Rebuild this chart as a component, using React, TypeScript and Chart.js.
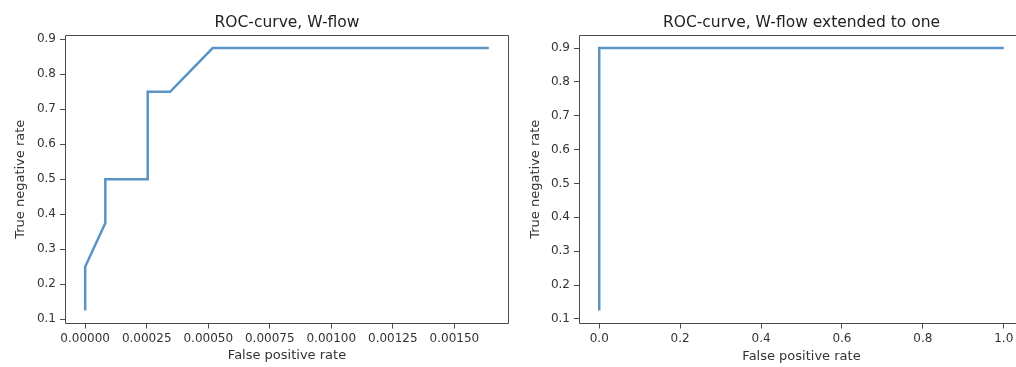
import React, { useEffect, useRef } from "react";
import { Chart, registerables } from "chart.js";

Chart.register(...registerables);

// ---- data ----
const leftFpr = [0, 0, 0.0000819, 0.0000819, 0.000254, 0.000254, 0.000345, 0.000518, 0.00164];
const leftTnr = [0.125, 0.25, 0.375, 0.5, 0.5, 0.75, 0.75, 0.875, 0.875];
const rightFpr = [0, 0, 1];
const rightTnr = [0.125, 0.9, 0.9];

const leftXTicks = [0, 0.00025, 0.0005, 0.00075, 0.001, 0.00125, 0.0015];
const rightXTicks = [0, 0.2, 0.4, 0.6, 0.8, 1.0];
const yTicks = [0.1, 0.2, 0.3, 0.4, 0.5, 0.6, 0.7, 0.8, 0.9];

const leftTitle = "ROC-curve, W-flow";
const rightTitle = "ROC-curve, W-flow extended to one";
const xLabel = "False positive rate";
const yLabel = "True negative rate";

// ---- styles ----
const FONT = "'DejaVu Sans', sans-serif";
const LINE = "#5a94c4";
const SPINE = "#4a4a4a";
const TEXT = "#333333";

const framePlugin = {
  id: "frame",
  afterDraw(chart: any, _args: any, opts: any) {
    const { ctx, chartArea: a } = chart;
    const l = Math.round(a.left) + 0.5;
    const t = Math.round(a.top) + 0.5;
    const r = Math.round(a.right) - 0.5;
    const b = Math.round(a.bottom) - 0.5;
    const rr = opts && opts.rightSpine ? r : Math.round(a.right) + 1;
    ctx.save();
    ctx.strokeStyle = SPINE;
    ctx.lineWidth = 1;
    ctx.beginPath();
    ctx.moveTo(rr, t);
    ctx.lineTo(l, t);
    ctx.lineTo(l, b);
    ctx.lineTo(rr, b);
    if (opts && opts.rightSpine) {
      ctx.moveTo(r, t);
      ctx.lineTo(r, b);
    }
    ctx.stroke();
    ctx.restore();
  },
};

type Geo = {
  width: number;
  yAxisWidth: number;
  padRight: number;
  xMin: number;
  xMax: number;
  yMin: number;
  yMax: number;
  xTicks: number[];
  xDigits: number;
  yTitlePad: number;
  xTitlePad: number;
  rightSpine: boolean;
};

const TOP_BOX = 35;
const X_AXIS_H = 43.5;

function makeConfig(title: string, xs: number[], ys: number[], g: Geo): any {
  const pts = xs.map((x, i) => ({ x, y: ys[i] }));
  return {
    type: "scatter",
    data: {
      datasets: [
        {
          data: pts,
          showLine: true,
          borderColor: LINE,
          borderWidth: 2.5,
          pointRadius: 0,
          tension: 0,
          fill: false,
        },
      ],
    },
    options: {
      responsive: false,
      animation: false,
      devicePixelRatio: 1,
      layout: { padding: { left: 0, right: g.padRight, top: 0, bottom: 0 } },
      plugins: {
        legend: { display: false },
        tooltip: { enabled: false },
        frame: { rightSpine: g.rightSpine },
        title: {
          display: true,
          text: title,
          fullSize: false,
          color: "#222222",
          font: { family: FONT, size: 15.5, weight: "normal" },
          padding: { top: 13.2, bottom: TOP_BOX - 13.2 - 15.5 * 1.2 },
        },
      },
      scales: {
        x: {
          type: "linear",
          min: g.xMin,
          max: g.xMax,
          border: { display: false },
          grid: { drawOnChartArea: false, drawTicks: true, tickLength: 5, color: SPINE },
          afterBuildTicks: (s: any) => {
            s.ticks = g.xTicks.map((v) => ({ value: v }));
          },
          afterFit: (s: any) => {
            s.height = X_AXIS_H;
          },
          ticks: {
            color: TEXT,
            font: { family: FONT, size: 12 },
            padding: 3,
            maxRotation: 0,
            autoSkip: false,
            callback: (v: any) => Number(v).toFixed(g.xDigits),
          },
          title: {
            display: true,
            text: xLabel,
            color: TEXT,
            font: { family: FONT, size: 13 },
            padding: { top: 0, bottom: g.xTitlePad },
          },
        },
        y: {
          type: "linear",
          min: g.yMin,
          max: g.yMax,
          border: { display: false },
          grid: { drawOnChartArea: false, drawTicks: true, tickLength: 5, color: SPINE },
          afterBuildTicks: (s: any) => {
            s.ticks = yTicks.map((v) => ({ value: v }));
          },
          afterFit: (s: any) => {
            s.width = g.yAxisWidth;
          },
          ticks: {
            color: TEXT,
            font: { family: FONT, size: 12 },
            padding: 4,
            autoSkip: false,
            callback: (v: any) => Number(v).toFixed(1),
          },
          title: {
            display: true,
            text: yLabel,
            color: TEXT,
            font: { family: FONT, size: 13 },
            padding: { top: g.yTitlePad, bottom: 0 },
          },
        },
      },
    },
    plugins: [framePlugin],
  };
}

function RocChart(props: { title: string; xs: number[]; ys: number[]; g: Geo; left: number }) {
  const ref = useRef<HTMLCanvasElement>(null);
  useEffect(() => {
    if (!ref.current) return;
    const chart = new Chart(ref.current, makeConfig(props.title, props.xs, props.ys, props.g));
    return () => chart.destroy();
  }, []);
  return (
    <canvas
      ref={ref}
      width={props.g.width}
      height={367}
      style={{ position: "absolute", left: props.left, top: 0, width: props.g.width, height: 367 }}
    />
  );
}

const leftGeo: Geo = {
  width: 512,
  yAxisWidth: 65,
  padRight: 3,
  xMin: -0.000082,
  xMax: 0.001722,
  yMin: 0.0875,
  yMax: 0.9125,
  xTicks: leftXTicks,
  xDigits: 5,
  yTitlePad: 13.2,
  xTitlePad: 3.2,
  rightSpine: true,
};

// right panel runs past the picture edge (its axes end beyond x = 1.0)
const rightGeo: Geo = {
  width: 530,
  yAxisWidth: 67,
  padRight: 18,
  xMin: -0.05,
  xMax: 1.05,
  yMin: 0.08625,
  yMax: 0.93875,
  xTicks: rightXTicks,
  xDigits: 1,
  yTitlePad: 15.7,
  xTitlePad: 2.2,
  rightSpine: false,
};

export default function App() {
  return (
    <div
      style={{
        position: "fixed",
        left: 0,
        top: 0,
        width: 1016,
        height: 367,
        overflow: "hidden",
        background: "#ffffff",
      }}
    >
      <RocChart title={leftTitle} xs={leftFpr} ys={leftTnr} g={leftGeo} left={0} />
      <RocChart title={rightTitle} xs={rightFpr} ys={rightTnr} g={rightGeo} left={512} />
    </div>
  );
}
